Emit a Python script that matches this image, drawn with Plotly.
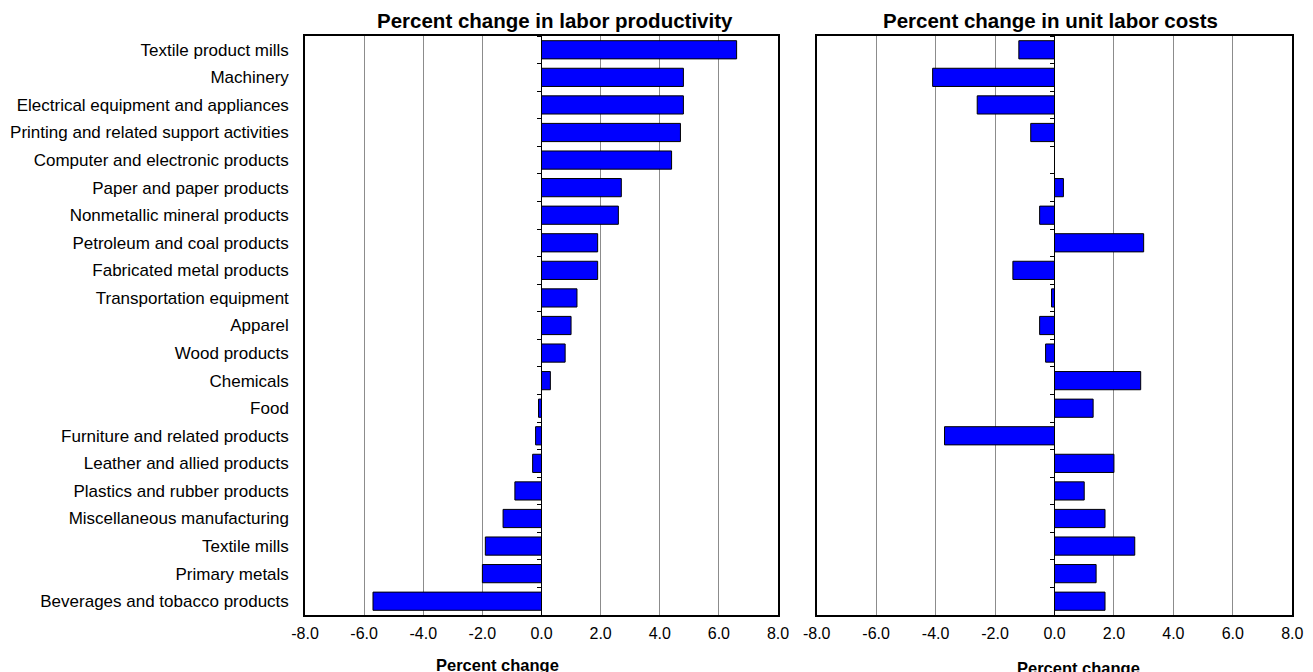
import plotly.graph_objects as go

categories = ["Textile product mills", "Machinery", "Electrical equipment and appliances",
              "Printing and related support activities", "Computer and electronic products",
              "Paper and paper products", "Nonmetallic mineral products", "Petroleum and coal products",
              "Fabricated metal products", "Transportation equipment", "Apparel", "Wood products",
              "Chemicals", "Food", "Furniture and related products", "Leather and allied products",
              "Plastics and rubber products", "Miscellaneous manufacturing", "Textile mills",
              "Primary metals", "Beverages and tobacco products"]
productivity = [6.6, 4.8, 4.8, 4.7, 4.4, 2.7, 2.6, 1.9, 1.9, 1.2, 1.0, 0.8, 0.3, -0.1, -0.2, -0.3,
                -0.9, -1.3, -1.9, -2.0, -5.7]
unit_labor_costs = [-1.2, -4.1, -2.6, -0.8, 0.0, 0.3, -0.5, 3.0, -1.4, -0.1, -0.5, -0.3, 2.9, 1.3,
                    -3.7, 2.0, 1.0, 1.7, 2.7, 1.4, 1.7]
x_ticks = [-8, -6, -4, -2, 0, 2, 4, 6, 8]
x_tick_labels = ["-8.0", "-6.0", "-4.0", "-2.0", "0.0", "2.0", "4.0", "6.0", "8.0"]
titles = ["Percent change in labor productivity", "Percent change in unit labor costs"]
x_title = "Percent change"

W, H = 1313, 672
OFF = 8  # page body margin offset
FONT = "Liberation Sans, Arial, sans-serif"


def px(x):
    return (x - OFF) / W


def py(y):
    return 1 - (y - OFF) / H


L0, L1 = 305, 778
R0, R1 = 816.7, 1292.3
left_dom = [px(L0), px(L1)]
right_dom = [px(R0), px(R1)]
y_dom = [py(615), py(36)]

fig = go.Figure()
bar_style = dict(orientation="h", marker=dict(color="#0000FF", line=dict(color="black", width=1)),
                 width=0.66, showlegend=False, hoverinfo="x+y")
fig.add_trace(go.Bar(x=productivity, y=categories, xaxis="x", yaxis="y", **bar_style))
fig.add_trace(go.Bar(x=unit_labor_costs, y=categories, xaxis="x2", yaxis="y2", **bar_style))
# invisible traces to carry the boundary tick axes on the zero lines
for xa, ya in (("x", "y3"), ("x2", "y4")):
    fig.add_trace(go.Scatter(x=[0] * len(categories), y=categories, xaxis=xa, yaxis=ya,
                             mode="markers", marker=dict(opacity=0), hoverinfo="skip",
                             showlegend=False))

xcommon = dict(range=[-8, 8], tickvals=x_ticks, ticktext=x_tick_labels, showgrid=True,
               gridcolor="#8c8c8c", gridwidth=1, zeroline=True, zerolinecolor="black",
               zerolinewidth=1.2, showline=True, linecolor="black", linewidth=1.5, mirror=True,
               ticks="", ticklabelstandoff=3, tickfont=dict(size=16, color="black", family=FONT),
               automargin=False, fixedrange=True)
ycommon = dict(type="category", categoryorder="array", categoryarray=categories,
               range=[len(categories) - 0.5, -0.5], domain=y_dom, showgrid=False,
               showline=True, linecolor="black", linewidth=1.5, mirror=True, ticks="",
               automargin=False, fixedrange=True)
ytickaxis = dict(type="category", categoryorder="array", categoryarray=categories,
                 range=[len(categories) - 0.5, -0.5], anchor="free", side="left",
                 ticks="outside", tickson="boundaries", ticklen=5, tickcolor="black",
                 tickwidth=1.2, showticklabels=False, showline=False, showgrid=False,
                 automargin=False, fixedrange=True)

fig.update_layout(
    width=W, height=H,
    margin=dict(l=0, r=0, t=0, b=0),
    paper_bgcolor="white", plot_bgcolor="white",
    font=dict(family=FONT, color="black"),
    xaxis=dict(domain=left_dom, anchor="y", **xcommon),
    xaxis2=dict(domain=right_dom, anchor="y2", **xcommon),
    yaxis=dict(anchor="x", showticklabels=True, ticklabelstandoff=11,
               tickfont=dict(size=17, color="black", family=FONT), **ycommon),
    yaxis2=dict(anchor="x2", showticklabels=False, **ycommon),
    yaxis3=dict(overlaying="y", position=px((L0 + L1) / 2), **ytickaxis),
    yaxis4=dict(overlaying="y2", position=px((R0 + R1) / 2), **ytickaxis),
)

annos = [
    dict(text="<b>" + titles[0] + "</b>", x=px(555), y=py(20), font=dict(size=20.5)),
    dict(text="<b>" + titles[1] + "</b>", x=px(1050), y=py(20), font=dict(size=20.5)),
    dict(text="<b>" + x_title + "</b>", x=px(497), y=py(665), font=dict(size=16.5)),
    dict(text="<b>" + x_title + "</b>", x=px(1078), y=py(668), font=dict(size=16.5)),
]
for a in annos:
    fig.add_annotation(xref="paper", yref="paper", showarrow=False, xanchor="center",
                       yanchor="middle", **a)

fig.write_html("out.html")
